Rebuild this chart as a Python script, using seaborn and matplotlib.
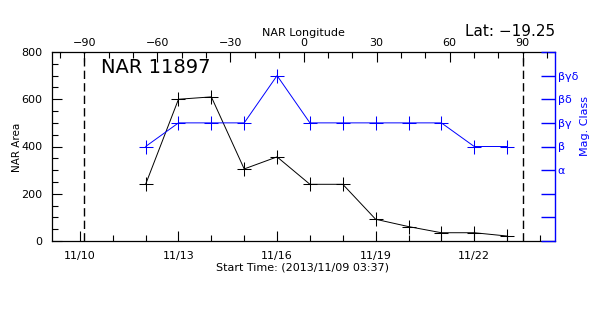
import matplotlib
matplotlib.use("Agg")
import matplotlib.pyplot as plt
import matplotlib.dates as mdates
from matplotlib.ticker import MultipleLocator, FixedLocator, FixedFormatter
import numpy as np
import pandas as pd
import seaborn as sns

# ---- data ----
dates = pd.to_datetime(["2013-11-12", "2013-11-13", "2013-11-14", "2013-11-15",
                        "2013-11-16", "2013-11-17", "2013-11-18", "2013-11-19",
                        "2013-11-20", "2013-11-21", "2013-11-22", "2013-11-23"])
nar_area = [240, 600, 610, 305, 356, 240, 240, 92, 61, 35, 35, 21]
mag_class = [4, 5, 5, 5, 7, 5, 5, 5, 5, 5, 4, 4]
mag_ticks = [0, 1, 2, 3, 4, 5, 6, 7, 8]
mag_labels = ["", "", "", "α", "β", "βγ", "βδ", "βγδ", ""]
lon_ticks = [-90, -60, -30, 0, 30, 60, 90]
limb_lons = [-90, 90]
date_ticks = pd.to_datetime(["2013-11-10", "2013-11-13", "2013-11-16", "2013-11-19", "2013-11-22"])

sns.set_style("ticks")
plt.rcParams["font.family"] = ["DejaVu Sans"]
plt.rcParams["text.color"] = "black"
plt.rcParams["axes.labelcolor"] = "black"
plt.rcParams["xtick.color"] = "black"
plt.rcParams["ytick.color"] = "black"
plt.rcParams["axes.edgecolor"] = "black"

fig = plt.figure(figsize=(6, 3.15), dpi=100)
fig.patch.set_facecolor("white")
ax = fig.add_axes([52 / 600, 1 - 241 / 315, 503 / 600, 189 / 315])

df = pd.DataFrame({"date": dates, "area": nar_area, "mag": mag_class})

sns.lineplot(data=df, x="date", y="area", ax=ax, color="black", lw=0.7,
             marker="+", ms=9.5, mew=0.75, mec="black")
ax.set_ylim(0, 800)
ax.set_xlim(pd.Timestamp("2013-11-09 03:37"), pd.Timestamp("2013-11-24 11:00"))
ax.yaxis.set_major_locator(MultipleLocator(200))
ax.yaxis.set_minor_locator(MultipleLocator(50))
ax.xaxis.set_major_locator(FixedLocator(mdates.date2num(date_ticks)))
ax.xaxis.set_minor_locator(mdates.DayLocator())
ax.xaxis.set_major_formatter(mdates.DateFormatter("%m/%d"))
ax.tick_params(axis="both", which="major", direction="in", length=7, width=0.8,
               labelsize=8, color="black", labelcolor="black")
ax.tick_params(axis="both", which="minor", direction="in", length=4, width=0.8,
               color="black")
ax.tick_params(axis="x", which="major", pad=7)
ax.tick_params(axis="y", which="major", pad=7)
ax.tick_params(axis="y", which="both", right=False)
ax.tick_params(axis="x", which="both", top=False)
ax.set_xlabel("")
ax.set_ylabel("")
for s in ["left", "bottom", "top"]:
    ax.spines[s].set_visible(True)
    ax.spines[s].set_color("black")
    ax.spines[s].set_linewidth(0.9)
ax.spines["right"].set_visible(False)

# right axis: magnetic class
axr = ax.twinx()
sns.lineplot(data=df, x="date", y="mag", ax=axr, color="blue", lw=0.7,
             marker="+", ms=9.5, mew=0.75, mec="blue")
axr.set_ylim(0, 8)
axr.yaxis.set_major_locator(FixedLocator(mag_ticks))
axr.yaxis.set_major_formatter(FixedFormatter(mag_labels))
axr.tick_params(axis="y", direction="in", length=10, width=1.0, colors="blue",
                labelsize=8, pad=2)
axr.set_ylabel("")
axr.set_xlabel("")
for s in ["left", "bottom", "top"]:
    axr.spines[s].set_visible(False)
axr.spines["right"].set_visible(True)
axr.spines["right"].set_color("blue")
axr.spines["right"].set_linewidth(1.0)

# top axis: longitude
ax2 = ax.twiny()
ax2.set_xlim(-103.3, 103.3)
ax2.xaxis.set_major_locator(FixedLocator(lon_ticks))
ax2.xaxis.set_minor_locator(MultipleLocator(10))
ax2.xaxis.set_major_formatter(FixedFormatter([f"{v:d}".replace("-", "−") for v in lon_ticks]))
ax2.tick_params(axis="x", which="major", direction="in", length=7, width=0.8,
                labelsize=8, pad=3, color="black", labelcolor="black")
ax2.tick_params(axis="x", which="minor", direction="in", length=4, width=0.8,
                color="black")
for s in ["left", "bottom", "right", "top"]:
    ax2.spines[s].set_visible(False)
for lon in limb_lons:
    ax2.axvline(lon, color="black", lw=1.0, ls=(0, (6, 3)))

# texts
fig.text(101 / 600, 1 - 73 / 315, "NAR 11897", fontsize=14, va="baseline", ha="left")
fig.text(555 / 600, 1 - 36 / 315, "Lat: −19.25", fontsize=11, va="baseline", ha="right")
fig.text(303.5 / 600, 1 - 36.5 / 315, "NAR Longitude", fontsize=8, va="baseline", ha="center")
fig.text(302 / 600, 1 - 270 / 315, "Start Time: (2013/11/09 03:37)", fontsize=8,
         va="baseline", ha="center")
fig.text(17 / 600, 1 - 147 / 315, "NAR Area", fontsize=7.5, rotation=90,
         va="center", ha="center")
fig.text(585 / 600, 1 - 126 / 315, "Mag. Class", fontsize=8, rotation=90,
         va="center", ha="center", color="blue")

fig.savefig("out.png", dpi=100, facecolor="white")
